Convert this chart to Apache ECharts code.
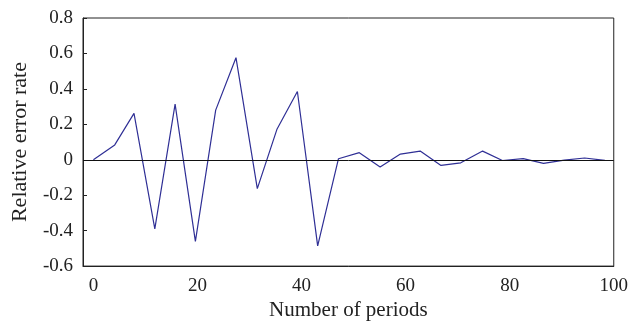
<!DOCTYPE html>
<html>
<head>
<meta charset="utf-8">
<script src="https://cdn.jsdelivr.net/npm/echarts@6/dist/echarts.min.js"></script>
<style>
html, body { margin: 0; padding: 0; background: #fff; }
#chart { width: 631px; height: 326px; }
</style>
</head>
<body>
<div id="chart"></div>
<script>
// periods (x) and relative error rate (y)
var periods = [0, 4.1, 7.8, 11.8, 15.7, 19.6, 23.5, 27.4, 31.5, 35.3, 39.2, 43.1, 47.1,
               51.1, 55.1, 59.0, 62.8, 66.8, 70.6, 74.8, 78.6, 82.6, 86.5, 90.5, 94.4, 98.3];
var errorRate = [0, 0.084, 0.262, -0.39, 0.314, -0.46, 0.28, 0.576, -0.163, 0.174, 0.385, -0.486, 0.006,
                 0.04, -0.041, 0.032, 0.049, -0.032, -0.017, 0.049, -0.004, 0.006, -0.02, -0.002, 0.01, -0.003];
var xTicks = [0, 20, 40, 60, 80, 100];

var points = periods.map(function (p, i) { return [p, errorRate[i]]; });
var font = 'Liberation Serif';

var chart = echarts.init(document.getElementById('chart'));
chart.setOption({
    animation: false,
    grid: {
        left: 83, right: 16, top: 18, bottom: 58,
        show: true, borderColor: '#222', borderWidth: 1
    },
    xAxis: {
        type: 'value',
        min: -2, max: 100,
        name: 'Number of periods',
        nameLocation: 'middle',
        nameGap: 33,
        nameTextStyle: { fontFamily: font, fontSize: 21, color: '#222' },
        axisLine: { show: true, onZero: false, lineStyle: { color: '#222' } },
        axisTick: { show: false },
        splitLine: { show: false },
        axisLabel: {
            customValues: xTicks,
            fontFamily: font, fontSize: 19, color: '#222', margin: 10
        }
    },
    yAxis: {
        type: 'value',
        min: -0.6, max: 0.8, interval: 0.2,
        name: 'Relative error rate',
        nameLocation: 'middle',
        nameGap: 52,
        nameTextStyle: { fontFamily: font, fontSize: 22, color: '#222' },
        axisLine: { show: true, onZero: false, lineStyle: { color: '#222' } },
        axisTick: { show: true, inside: true, length: 4, lineStyle: { color: '#222' } },
        splitLine: { show: false },
        axisLabel: {
            fontFamily: font, fontSize: 19, color: '#222', margin: 10,
            formatter: function (v) { return String(Math.round(v * 10) / 10); }
        }
    },
    series: [{
        type: 'line',
        data: points,
        symbol: 'none',
        lineStyle: { color: '#2f2f95', width: 1.2 },
        markLine: {
            silent: true,
            symbol: 'none',
            label: { show: false },
            lineStyle: { color: '#111', width: 1, type: 'solid' },
            data: [{ yAxis: 0 }]
        }
    }]
});
</script>
</body>
</html>
